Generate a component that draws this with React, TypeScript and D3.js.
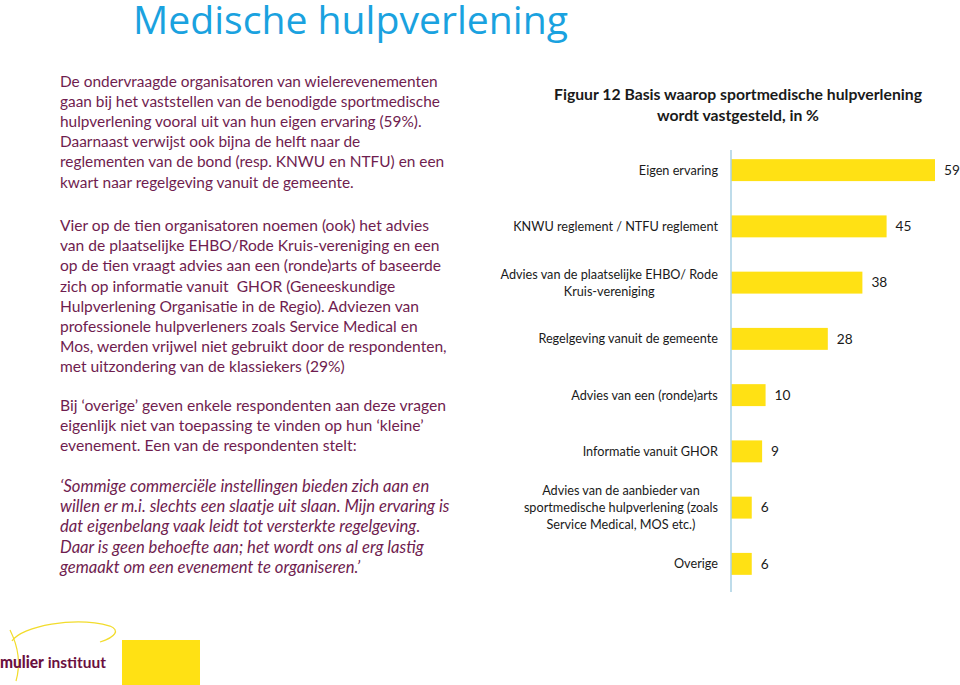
import React from "react";
import * as d3 from "d3";

const pageTitle = "Medische hulpverlening";
const chartTitle = ["Figuur 12 Basis waarop sportmedische hulpverlening", "wordt vastgesteld, in %"];
const categories = [
  "Eigen ervaring",
  "KNWU reglement / NTFU reglement",
  "Advies van de plaatselijke EHBO/ Rode\nKruis-vereniging",
  "Regelgeving vanuit de gemeente",
  "Advies van een (ronde)arts",
  "Informatie vanuit GHOR",
  "Advies van de aanbieder van\nsportmedische hulpverlening (zoals\nService Medical, MOS etc.)",
  "Overige",
];
const values = [59, 45, 38, 28, 10, 9, 6, 6];

const para1 = [
  "De ondervraagde organisatoren van wielerevenementen",
  "gaan bij het vaststellen van de benodigde sportmedische",
  "hulpverlening vooral uit van hun eigen ervaring (59%).",
  "Daarnaast verwijst ook bijna de helft naar de",
  "reglementen van de bond (resp. KNWU en NTFU) en een",
  "kwart naar regelgeving vanuit de gemeente.",
];
const para2 = [
  "Vier op de tien organisatoren noemen (ook) het advies",
  "van de plaatselijke EHBO/Rode Kruis-vereniging en een",
  "op de tien vraagt advies aan een (ronde)arts of baseerde",
  "zich op informatie vanuit  GHOR (Geneeskundige",
  "Hulpverlening Organisatie in de Regio). Adviezen van",
  "professionele hulpverleners zoals Service Medical en",
  "Mos, werden vrijwel niet gebruikt door de respondenten,",
  "met uitzondering van de klassiekers (29%)",
];
const para3 = [
  "Bij \u2018overige\u2019 geven enkele respondenten aan deze vragen",
  "eigenlijk niet van toepassing te vinden op hun \u2018kleine\u2019",
  "evenement. Een van de respondenten stelt:",
];
const quote = [
  "\u2018Sommige commerci\u00eble instellingen bieden zich aan en",
  "willen er m.i. slechts een slaatje uit slaan. Mijn ervaring is",
  "dat eigenbelang vaak leidt tot versterkte regelgeving.",
  "Daar is geen behoefte aan; het wordt ons al erg lastig",
  "gemaakt om een evenement te organiseren.\u2019",
];
const logoWords = ["mulier", "instituut"];

const FONT = "Lato";
const FAMILY = "Lato, 'Open Sans', sans-serif";
let _ctx: CanvasRenderingContext2D | null = null;
function measure(text: string, size: number, weight = "normal", style = "normal", font = FONT) {
  if (!_ctx) _ctx = document.createElement("canvas").getContext("2d");
  if (!_ctx) return text.length * size * 0.5;
  _ctx.font = `${style} ${weight} ${size}px ${font}`;
  return _ctx.measureText(text).width;
}
function fitSize(lines: string[], target: number, weight = "normal", style = "normal", font = FONT) {
  const w = Math.max(...lines.map((l) => measure(l, 20, weight, style, font)));
  return (20 * target) / w;
}

const TEXT_COLOR = "#6f1d4f";
const BAR_COLOR = "#ffe114";

export default function App() {
  const x = d3.scaleLinear().domain([0, 59]).range([731, 935]);
  const y = d3
    .scaleBand<string>()
    .domain(categories)
    .range([142, 592])
    .paddingInner(0.61)
    .paddingOuter(0.305);

  const labelLines = categories.map((c) => c.split("\n"));
  const labelSize = fitSize(["KNWU reglement / NTFU reglement"], 205);
  const labelLH = 17;

  const s1 = fitSize(para1, 385);
  const s2 = fitSize(para2, 388);
  const s3 = fitSize(para3, 387);
  const sq = fitSize(quote, 390, "normal", "italic");
  const ctSize = fitSize([chartTitle[0]], 369, "bold");
  const titleSize = Math.min(40, fitSize([pageTitle], 435, "normal", "normal", "'Open Sans'"));

  const para = (lines: string[], size: number, y0: number, italic = false) =>
    lines.map((l, i) => (
      <text
        key={i}
        x={60}
        y={y0 + i * 20.2}
        fontSize={size}
        fontStyle={italic ? "italic" : "normal"}
        fill={TEXT_COLOR}
        style={{ whiteSpace: "pre" }}
      >
        {l}
      </text>
    ));

  return (
    <svg
      width={960}
      height={685}
      style={{ position: "absolute", left: 0, top: 0, background: "#fff" }}
      fontFamily={FAMILY}
    >
      <rect x={0} y={0} width={960} height={685} fill="#fff" />
      <text
        x={133}
        y={34}
        fontFamily="'Open Sans', Lato, sans-serif"
        fontSize={titleSize}
        textLength={435}
        lengthAdjust="spacingAndGlyphs"
        fill="#1aa2df"
      >
        {pageTitle}
      </text>

      {para(para1, s1, 86.5)}
      {para(para2, s2, 231)}
      {para(para3, s3, 411)}
      {para(quote, sq, 492, true)}

      {chartTitle.map((t, i) => (
        <text key={i} x={738} y={100 + i * 21} textAnchor="middle" fontWeight="bold" fontSize={ctSize} fill="#1a1a1a">
          {t}
        </text>
      ))}

      {categories.map((c, i) => {
        const lines = labelLines[i];
        const maxW = Math.max(...lines.map((l) => measure(l, labelSize)));
        const cx = 718 - maxW / 2;
        const cy = (y(c) ?? 0) + y.bandwidth() / 2;
        const top = cy - ((lines.length - 1) * labelLH) / 2;
        return (
          <g key={c}>
            {lines.map((l, j) => (
              <text key={j} x={cx} y={top + j * labelLH + labelSize * 0.35} textAnchor="middle" fontSize={labelSize} fill="#1a1a1a">
                {l}
              </text>
            ))}
            <rect x={x(0)} y={y(c)} width={x(values[i]) - x(0)} height={y.bandwidth()} fill={BAR_COLOR} />
            <text x={x(values[i]) + 9} y={cy + labelSize * 0.37} fontSize={labelSize * 1.08} fill="#1a1a1a">
              {values[i]}
            </text>
          </g>
        );
      })}
      <line x1={x(0)} x2={x(0)} y1={150} y2={592} stroke="#a9d0e3" strokeWidth={1.5} />

      {/* logo */}
      <rect x={122} y={640} width={78} height={45} fill={BAR_COLOR} />
      <path d="M 12 641 C 22 626, 75 616, 110 626 C 120 630, 116 637, 100 642" fill="none" stroke="#f2dc2c" strokeWidth={1.3} />
      <path d="M 10 630 C 16 642, 22 660, 16 681" fill="none" stroke="#f2dc2c" strokeWidth={1.2} />
      <text x={0} y={668} fontSize={16} textLength={106} lengthAdjust="spacingAndGlyphs" fontWeight="bold" fill="#6b1040">
        <tspan fontWeight="900">{logoWords[0]}</tspan>
        <tspan> {logoWords[1]}</tspan>
      </text>
    </svg>
  );
}
